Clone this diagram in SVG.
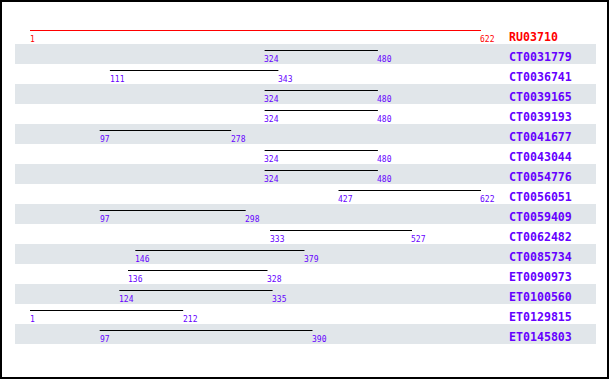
<svg xmlns="http://www.w3.org/2000/svg" width="610" height="380" viewBox="0 0 610 380">
<style>
.stripe{fill:#e1e6ea}
.bar{stroke:#000;stroke-width:1}
.num{font-family:"DejaVu Sans Mono","Liberation Mono",monospace;font-size:8px;fill:#6600ff}
.name{font-family:"DejaVu Sans Mono","Liberation Mono",monospace;font-size:11.6px;font-weight:bold;fill:#6600ff}
.ref .bar{stroke:#ff0000}
.ref .num,.ref .name{fill:#ff0000}
</style>
<rect x="0" y="0" width="610" height="380" fill="#fff"/>
<g id="stripes">
<rect class="stripe" x="15" y="44" width="581" height="20"/>
<rect class="stripe" x="15" y="84" width="581" height="20"/>
<rect class="stripe" x="15" y="124" width="581" height="20"/>
<rect class="stripe" x="15" y="164" width="581" height="20"/>
<rect class="stripe" x="15" y="204" width="581" height="20"/>
<rect class="stripe" x="15" y="244" width="581" height="20"/>
<rect class="stripe" x="15" y="284" width="581" height="20"/>
<rect class="stripe" x="15" y="324" width="581" height="20"/>
</g>
<g id="RU03710" class="ref">
<line class="bar" x1="30" y1="30.5" x2="481" y2="30.5"/>
<text class="num" x="30" y="42">1</text><text class="num" x="480" y="42">622</text>
<text class="name" x="509" y="41">RU03710</text>
</g>
<g id="CT0031779">
<line class="bar" x1="264.6" y1="50.5" x2="377.9" y2="50.5"/>
<text class="num" x="264" y="62">324</text><text class="num" x="377" y="62">480</text>
<text class="name" x="509" y="61">CT0031779</text>
</g>
<g id="CT0036741">
<line class="bar" x1="109.9" y1="70.5" x2="278.4" y2="70.5"/>
<text class="num" x="110" y="82">111</text><text class="num" x="278" y="82">343</text>
<text class="name" x="509" y="81">CT0036741</text>
</g>
<g id="CT0039165">
<line class="bar" x1="264.6" y1="90.5" x2="377.9" y2="90.5"/>
<text class="num" x="264" y="102">324</text><text class="num" x="377" y="102">480</text>
<text class="name" x="509" y="101">CT0039165</text>
</g>
<g id="CT0039193">
<line class="bar" x1="264.6" y1="110.5" x2="377.9" y2="110.5"/>
<text class="num" x="264" y="122">324</text><text class="num" x="377" y="122">480</text>
<text class="name" x="509" y="121">CT0039193</text>
</g>
<g id="CT0041677">
<line class="bar" x1="99.7" y1="130.5" x2="231.2" y2="130.5"/>
<text class="num" x="100" y="142">97</text><text class="num" x="231" y="142">278</text>
<text class="name" x="509" y="141">CT0041677</text>
</g>
<g id="CT0043044">
<line class="bar" x1="264.6" y1="150.5" x2="377.9" y2="150.5"/>
<text class="num" x="264" y="162">324</text><text class="num" x="377" y="162">480</text>
<text class="name" x="509" y="161">CT0043044</text>
</g>
<g id="CT0054776">
<line class="bar" x1="264.6" y1="170.5" x2="377.9" y2="170.5"/>
<text class="num" x="264" y="182">324</text><text class="num" x="377" y="182">480</text>
<text class="name" x="509" y="181">CT0054776</text>
</g>
<g id="CT0056051">
<line class="bar" x1="338.5" y1="190.5" x2="481" y2="190.5"/>
<text class="num" x="338" y="202">427</text><text class="num" x="480" y="202">622</text>
<text class="name" x="509" y="201">CT0056051</text>
</g>
<g id="CT0059409">
<line class="bar" x1="99.7" y1="210.5" x2="245.7" y2="210.5"/>
<text class="num" x="100" y="222">97</text><text class="num" x="245" y="222">298</text>
<text class="name" x="509" y="221">CT0059409</text>
</g>
<g id="CT0062482">
<line class="bar" x1="270" y1="230.5" x2="412" y2="230.5"/>
<text class="num" x="270" y="242">333</text><text class="num" x="411" y="242">527</text>
<text class="name" x="509" y="241">CT0062482</text>
</g>
<g id="CT0085734">
<line class="bar" x1="135.3" y1="250.5" x2="304.5" y2="250.5"/>
<text class="num" x="135" y="262">146</text><text class="num" x="304" y="262">379</text>
<text class="name" x="509" y="261">CT0085734</text>
</g>
<g id="ET0090973">
<line class="bar" x1="128" y1="270.5" x2="267.5" y2="270.5"/>
<text class="num" x="128" y="282">136</text><text class="num" x="267" y="282">328</text>
<text class="name" x="509" y="281">ET0090973</text>
</g>
<g id="ET0100560">
<line class="bar" x1="119.3" y1="290.5" x2="272.6" y2="290.5"/>
<text class="num" x="119" y="302">124</text><text class="num" x="272" y="302">335</text>
<text class="name" x="509" y="301">ET0100560</text>
</g>
<g id="ET0129815">
<line class="bar" x1="30" y1="310.5" x2="183.2" y2="310.5"/>
<text class="num" x="30" y="322">1</text><text class="num" x="183" y="322">212</text>
<text class="name" x="509" y="321">ET0129815</text>
</g>
<g id="ET0145803">
<line class="bar" x1="99.7" y1="330.5" x2="312.5" y2="330.5"/>
<text class="num" x="100" y="342">97</text><text class="num" x="312" y="342">390</text>
<text class="name" x="509" y="341">ET0145803</text>
</g>
<g id="connectors"></g>
<rect x="1" y="1" width="607" height="377" fill="none" stroke="#000" stroke-width="2"/>
</svg>
